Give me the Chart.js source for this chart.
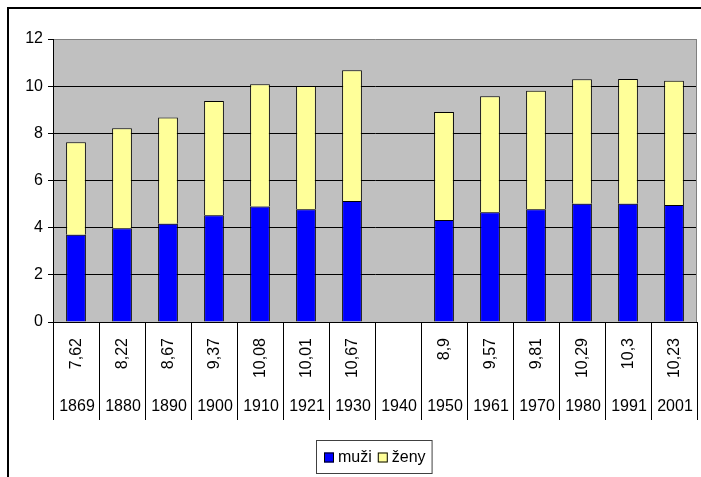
<!DOCTYPE html>
<html>
<head>
<meta charset="utf-8">
<script src="https://cdn.jsdelivr.net/npm/chart.js@4/dist/chart.umd.min.js"></script>
<style>
  html, body { margin: 0; padding: 0; background: #fff; }
  #wrap { width: 701px; height: 477px; }
</style>
</head>
<body>
<div id="wrap"><canvas id="chart" width="701" height="477"></canvas></div>
<script>
// Data
const years = ['1869', '1880', '1890', '1900', '1910', '1921', '1930', '1940', '1950', '1961', '1970', '1980', '1991', '2001'];
const totals = [7.62, 8.22, 8.67, 9.37, 10.08, 10.01, 10.67, null, 8.9, 9.57, 9.81, 10.29, 10.3, 10.23];
const muzi = [3.7, 3.98, 4.17, 4.53, 4.9, 4.78, 5.13, null, 4.33, 4.65, 4.78, 5.01, 5.01, 4.96];
const zeny = [3.92, 4.24, 4.5, 4.84, 5.18, 5.23, 5.54, null, 4.57, 4.92, 5.03, 5.28, 5.29, 5.27];
const yTicks = [0, 2, 4, 6, 8, 10, 12];

const FONT = "16px 'Liberation Sans', Arial, sans-serif";

// grey plot area, frame, category table under the axis, legend box
const decor = {
    id: 'decor',
    beforeDraw(chart) {
        const { ctx, chartArea: a } = chart;
        ctx.save();
        ctx.fillStyle = '#C0C0C0';
        ctx.fillRect(a.left, a.top, a.right - a.left, a.bottom - a.top);
        ctx.restore();
    },
    beforeDatasetsDraw(chart) {
        const { ctx, chartArea: a } = chart;
        ctx.save();
        ctx.strokeStyle = '#808080';
        ctx.lineWidth = 1;
        ctx.beginPath();
        ctx.moveTo(a.right - 0.5, a.top);
        ctx.lineTo(a.right - 0.5, a.bottom);
        ctx.stroke();
        ctx.restore();
    },
    afterDraw(chart) {
        const { ctx, chartArea: a } = chart;
        const x = chart.scales.x;
        const step = x.getPixelForValue(1) - x.getPixelForValue(0);
        ctx.save();

        // outer chart frame (cut at right and bottom)
        ctx.fillStyle = '#000';
        ctx.fillRect(7, 7, 701, 2);
        ctx.fillRect(7, 7, 2, 477);

        // separators of the label table
        ctx.strokeStyle = '#000';
        ctx.lineWidth = 1;
        ctx.beginPath();
        for (let i = 0; i <= years.length; i++) {
            const bx = Math.round(x.getPixelForValue(i) - step / 2) + 0.5;
            ctx.moveTo(bx, a.bottom);
            ctx.lineTo(bx, a.bottom + 98);
        }
        ctx.stroke();

        ctx.font = FONT;
        ctx.fillStyle = '#000';
        years.forEach((yr, i) => {
            const cx = x.getPixelForValue(i);
            // totals, rotated
            if (totals[i] !== null) {
                ctx.save();
                ctx.translate(cx + 1, a.bottom + 16);
                ctx.rotate(-Math.PI / 2);
                ctx.textAlign = 'right';
                ctx.textBaseline = 'middle';
                ctx.fillText(String(totals[i]).replace('.', ','), 0, 0);
                ctx.restore();
            }
            // years
            ctx.textAlign = 'center';
            ctx.textBaseline = 'middle';
            ctx.fillText(yr, cx + 1, a.bottom + 85);
        });

        // legend
        const items = chart.data.datasets.map(d => ({ label: d.label, color: d.backgroundColor }));
        const box = 10, gapBox = 4, gapItem = 6, pad = 7;
        let w = pad * 2 - gapItem;
        items.forEach(it => { w += box + gapBox + ctx.measureText(it.label).width + gapItem; });
        const lx = Math.round(374 - w / 2), ly = 440, lh = 33;
        ctx.strokeStyle = '#404040';
        ctx.strokeRect(lx + 0.5, ly + 0.5, w, lh);
        let px = lx + pad + 1;
        const my = ly + lh / 2 + 1;
        ctx.textAlign = 'left';
        ctx.textBaseline = 'middle';
        items.forEach(it => {
            ctx.fillStyle = it.color;
            ctx.fillRect(px, my - 5, box, box);
            ctx.strokeStyle = '#000';
            ctx.strokeRect(px + 0.5, my - 5 + 0.5, box - 1, box - 1);
            px += box + gapBox;
            ctx.fillStyle = '#000';
            ctx.fillText(it.label, px, my);
            px += ctx.measureText(it.label).width + gapItem;
        });
        ctx.restore();
    }
};

new Chart(document.getElementById('chart'), {
    type: 'bar',
    data: {
        labels: years,
        datasets: [
            {
                label: 'muži',
                data: muzi,
                backgroundColor: '#0000FF',
                borderColor: '#000',
                borderWidth: 1
            },
            {
                label: 'ženy',
                data: zeny,
                backgroundColor: '#FFFF99',
                borderColor: '#000',
                borderWidth: 1
            }
        ]
    },
    options: {
        responsive: false,
        animation: false,
        layout: { padding: { top: 39, right: 4, bottom: 155, left: 0 } },
        datasets: { bar: { categoryPercentage: 1, barPercentage: 0.43 } },
        plugins: { legend: { display: false }, tooltip: { enabled: false } },
        scales: {
            x: {
                stacked: true,
                display: false
            },
            y: {
                stacked: true,
                min: 0,
                max: 12,
                afterBuildTicks: s => { s.ticks = yTicks.map(v => ({ value: v })); },
                afterFit: s => { s.width = 53; },
                border: { display: true, color: '#000', width: 1 },
                grid: {
                    color: c => (c.tick && c.tick.value === 12 ? '#808080' : '#000'),
                    tickColor: '#000',
                    tickLength: 5,
                    lineWidth: 1
                },
                ticks: {
                    color: '#000',
                    padding: 5,
                    font: { family: "'Liberation Sans', Arial, sans-serif", size: 16 }
                }
            }
        }
    },
    plugins: [decor]
});
</script>
</body>
</html>
